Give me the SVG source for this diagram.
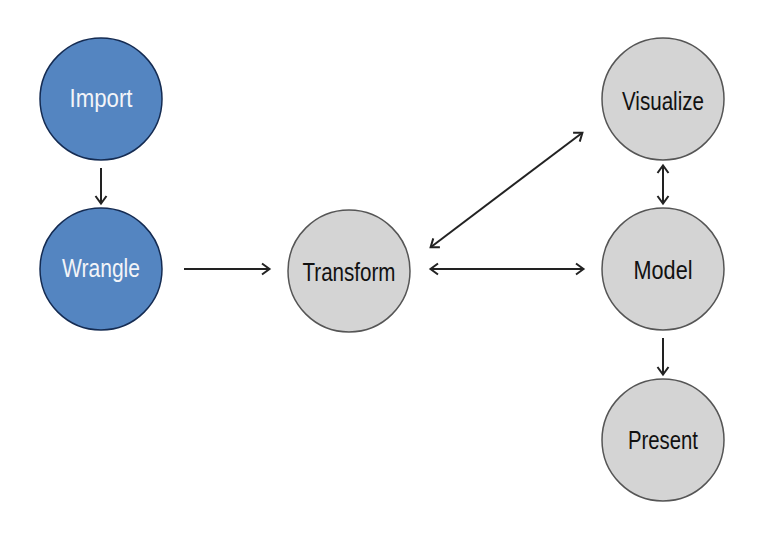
<svg xmlns="http://www.w3.org/2000/svg" width="765" height="541" viewBox="0 0 765 541">
<style>
.blue{fill:#5485c1;stroke:#142b52;stroke-width:1.5}
.gray{fill:#d4d4d4;stroke:#555;stroke-width:1.5}
.lbl{font-family:"Liberation Sans",Arial,sans-serif;font-size:25px;text-anchor:middle}
.lw{fill:#f2f4f8}
.lk{fill:#111}
.edge{stroke:#222;stroke-width:2;fill:none;marker-end:url(#ah)}
.both{marker-start:url(#ah)}
</style>
<defs>
<marker id="ah" markerUnits="userSpaceOnUse" markerWidth="12" markerHeight="14" refX="9" refY="7" orient="auto-start-reverse">
<path d="M2,1.5 L9.5,7 L2,12.5" fill="none" stroke="#222" stroke-width="2"/>
</marker>
</defs>
<g id="connectors">
<line class="edge" x1="101" y1="168" x2="101" y2="203"/>
<line class="edge" x1="184" y1="269" x2="269" y2="269"/>
<line class="edge both" x1="431" y1="269" x2="583" y2="269"/>
<line class="edge both" x1="431" y1="247" x2="582" y2="133"/>
<line class="edge both" x1="663" y1="166" x2="663" y2="203"/>
<line class="edge" x1="663" y1="338" x2="663" y2="374"/>
</g>
<g id="import"><circle class="blue" cx="101" cy="99" r="61"/><text class="lbl lw" x="101" y="107" textLength="63" lengthAdjust="spacingAndGlyphs">Import</text></g>
<g id="wrangle"><circle class="blue" cx="101" cy="269" r="61"/><text class="lbl lw" x="101" y="277" textLength="78" lengthAdjust="spacingAndGlyphs">Wrangle</text></g>
<g id="transform"><circle class="gray" cx="349" cy="271" r="61"/><text class="lbl lk" x="349" y="281" textLength="93" lengthAdjust="spacingAndGlyphs">Transform</text></g>
<g id="visualize"><circle class="gray" cx="663" cy="99" r="61"/><text class="lbl lk" x="663" y="110" textLength="82" lengthAdjust="spacingAndGlyphs">Visualize</text></g>
<g id="model"><circle class="gray" cx="663" cy="269" r="61"/><text class="lbl lk" x="663" y="279" textLength="59" lengthAdjust="spacingAndGlyphs">Model</text></g>
<g id="present"><circle class="gray" cx="663" cy="440" r="61"/><text class="lbl lk" x="663" y="449" textLength="70" lengthAdjust="spacingAndGlyphs">Present</text></g>
</svg>
